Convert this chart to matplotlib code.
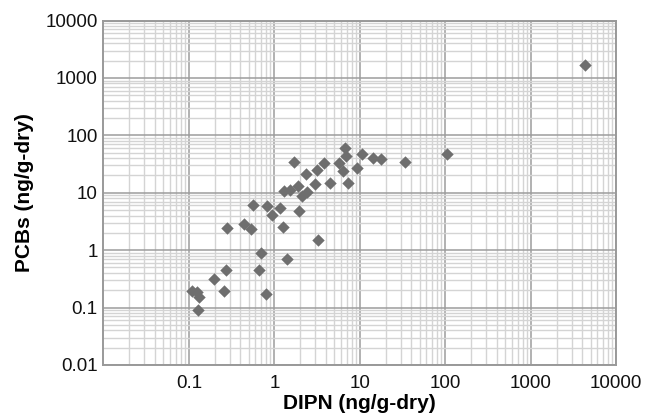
import matplotlib
matplotlib.use("Agg")
from matplotlib import pyplot as plt
from matplotlib.ticker import LogLocator, FuncFormatter, NullFormatter

plt.rcParams["font.family"] = ["Liberation Sans", "DejaVu Sans"]

# DIPN vs PCBs (ng/g-dry)
dipn = [6.71, 6.90, 10.5, 14.2, 17.5, 1.69, 3.81, 3.13, 2.33, 5.75,
        6.28, 9.2, 2.99, 4.48, 7.33, 1.29, 1.51, 1.89, 2.09, 2.41,
        1.15, 0.558, 0.815, 0.94, 1.95, 0.28, 0.44, 0.54, 1.27, 3.27,
        0.69, 1.40, 0.275, 0.666, 0.197, 0.258, 0.110, 0.125, 0.133, 0.796,
        0.127, 33.8, 4300, 105]
pcbs = [59.4, 43.6, 47.2, 39.7, 38.2, 34.7, 32.5, 25.4, 20.9, 32.5,
        24.4, 26.9, 14.3, 14.8, 14.5, 10.6, 11.1, 12.9, 8.76, 10.2,
        5.35, 6.1, 5.86, 4.17, 4.8, 2.46, 2.83, 2.33, 2.58, 1.5,
        0.89, 0.705, 0.46, 0.46, 0.31, 0.196, 0.195, 0.19, 0.15, 0.172,
        0.090, 33.9, 1678, 48]

x_ticks = [0.1, 1, 10, 100, 1000, 10000]
y_ticks = [0.01, 0.1, 1, 10, 100, 1000, 10000]

fig = plt.figure(figsize=(6.46, 4.19), dpi=100)
ax = fig.add_axes([0.16, 0.129, 0.794, 0.822])

ax.scatter(dipn, pcbs, marker="D", s=40, color="#6e6e6e", zorder=3, linewidths=0)

ax.set_xscale("log")
ax.set_yscale("log")
ax.set_xlim(0.01, 10000)
ax.set_ylim(0.01, 10000)

ax.set_xticks(x_ticks)
ax.set_yticks(y_ticks)
fmt = FuncFormatter(lambda v, p: "{:g}".format(v))
ax.xaxis.set_major_formatter(fmt)
ax.yaxis.set_major_formatter(fmt)
for axis in (ax.xaxis, ax.yaxis):
    axis.set_minor_locator(LogLocator(base=10, subs=range(2, 10), numticks=20))
    axis.set_minor_formatter(NullFormatter())

ax.grid(True, which="major", color="#9c9c9c", linewidth=1.1)
ax.grid(True, which="minor", color="#d4d4d4", linewidth=1.0)
ax.set_axisbelow(True)

ax.tick_params(which="both", length=0, labelsize=13.5, colors="#111111")
ax.tick_params(axis="y", pad=4)
ax.tick_params(axis="x", pad=7)
for sp in ax.spines.values():
    sp.set_color("#999999")
    sp.set_linewidth(1.4)

ax.set_xlabel("DIPN (ng/g-dry)", fontsize=15, fontweight="bold", labelpad=2)
ax.set_ylabel("PCBs (ng/g-dry)", fontsize=15, fontweight="bold", labelpad=8)

fig.savefig("out.png", dpi=100)
